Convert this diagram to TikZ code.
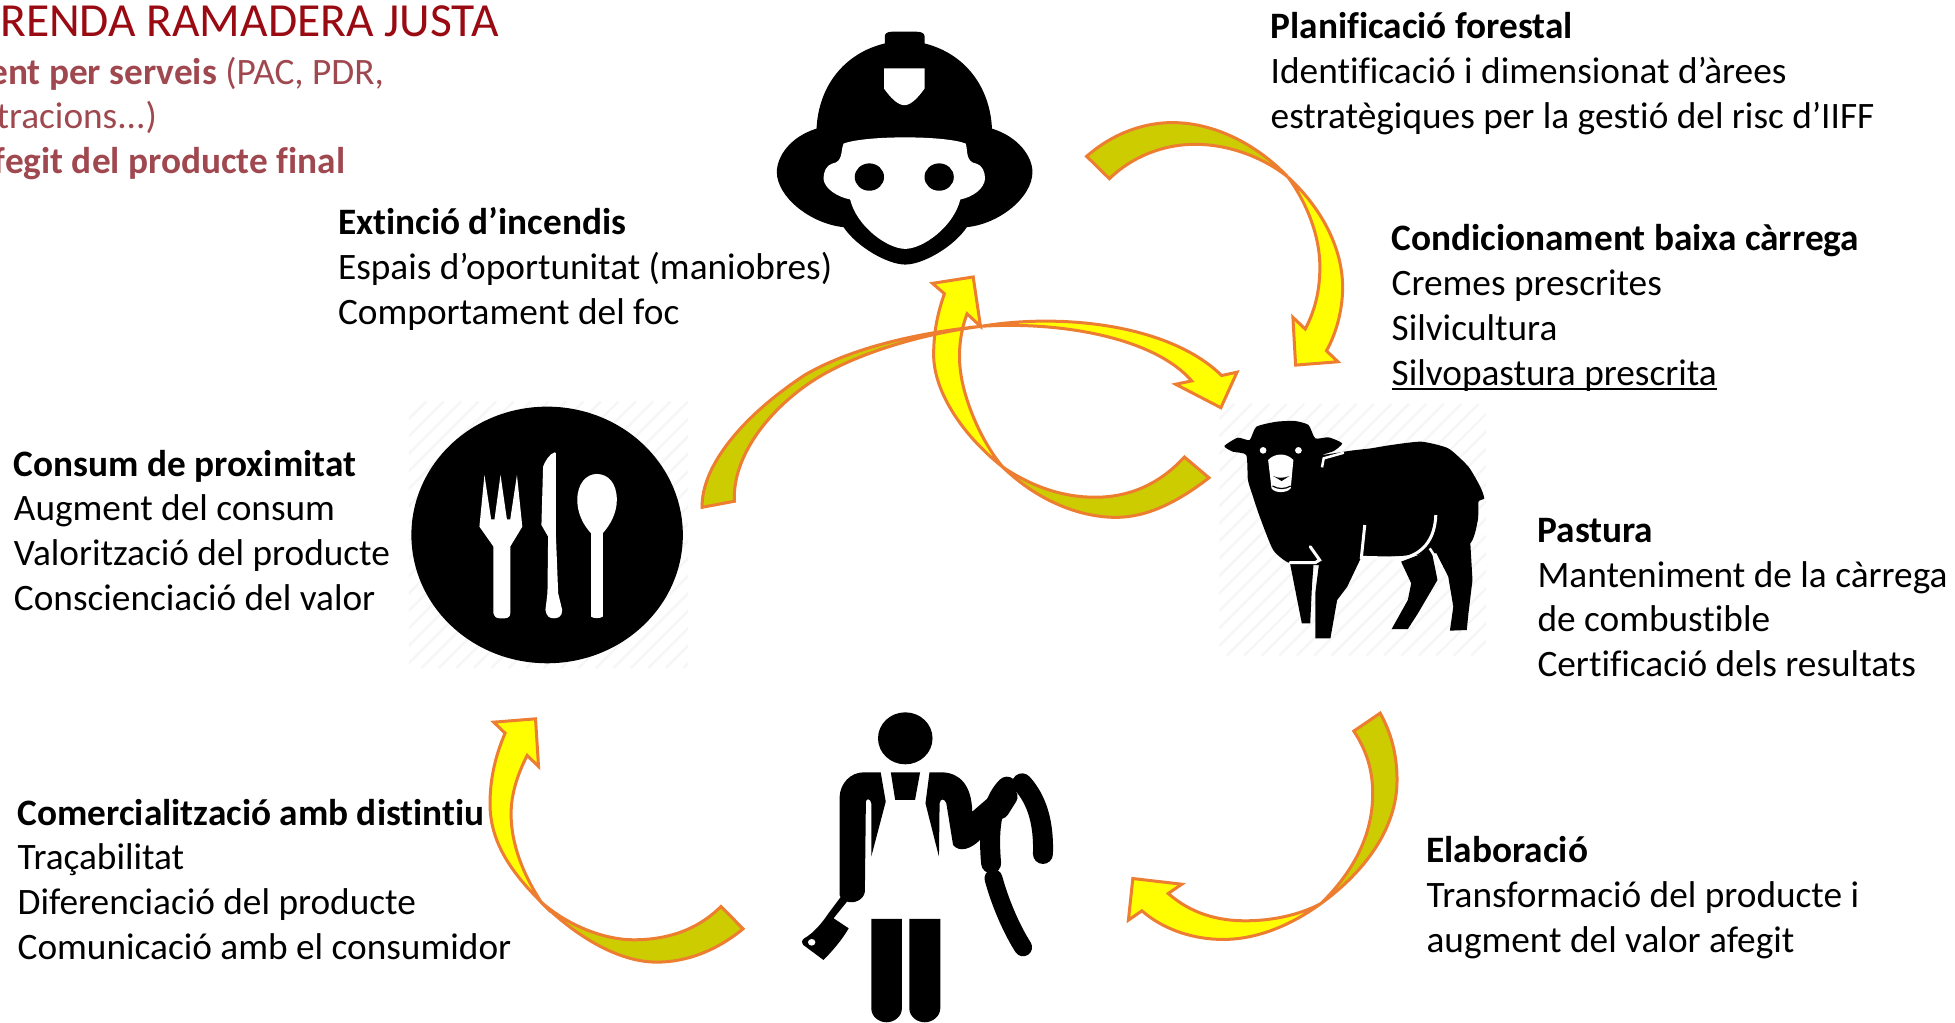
\documentclass[tikz,border=0pt]{standalone}
\usepackage{fontspec}
\setmainfont[RawFeature={-liga;-clig;-dlig}]{Carlito}
\definecolor{arrowline}{HTML}{ED7D31}
\definecolor{arrowyellow}{HTML}{FFFF00}
\definecolor{arrowdark}{HTML}{CCCC00}
\definecolor{titlered}{HTML}{990A12}
\definecolor{subred}{HTML}{A0484F}
\definecolor{faint}{HTML}{F6F6F6}
\newcommand{\thickul}[1]{\setbox0\hbox{#1}\rlap{\vrule depth 5.2pt height -3.2pt width \wd0}\box0}
\tikzset{
  body/.style={font={\fontsize{37.3}{44.9}\selectfont},anchor=base west,inner sep=0pt,align=left,text=black},
  head/.style={font={\fontsize{37.3}{44.9}\selectfont},anchor=base east,inner sep=0pt,text=subred},
  front/.style={fill=arrowyellow,draw=arrowline,line width=3pt,line join=miter},
  back/.style={fill=arrowdark,draw=arrowline,line width=3pt,line join=miter},
  fireA/.style={shift={(598.5,0)},xscale=.3092,yscale=.268},
  fireB/.style={shift={(600.8,0)},xscale=.3092,yscale=.268},
  middleZ/.style={shift={(544,206.6)},xscale=.308,yscale=.269},
  lowR/.style={shift={(882,562)},xscale=.271,yscale=.267},
  lowL/.style={shift={(368.3,562)},xscale=.2685,yscale=.2674},
  sheepZ/.style={shift={(961.75,304.9)},xscale=.27,yscale=.2674},
  plateZ/.style={shift={(320,320.9)},xscale=.2688,yscale=.2674},
  butcherZ/.style={shift={(624,561.6)},xscale=.27,yscale=.2674},
}
\begin{document}
\begin{tikzpicture}[x=1.2468pt,y=-1.2464pt]
\useasboundingbox (0,0) rectangle (1568,820);

% faint image backgrounds
\begin{scope}
\clip (978,324) rectangle (1192,526);
\foreach \i in {760,774,...,1192} \draw[faint,line width=2.5pt] (\i,526) -- ++(202,-202);
\end{scope}
\begin{scope}
\clip (328,322) rectangle (552,536);
\foreach \i in {100,114,...,552} \draw[faint,line width=2.5pt] (\i,536) -- ++(214,-214);
\end{scope}

% firefighter
\begin{scope}[fireB]
\fill[black] (352,130) -- (352,108) .. controls (352,100) and (360,95) .. (370,95) -- (435,95)
  .. controls (447,95) and (455,100) .. (455,108) -- (455,130)
  .. controls (560,160) and (625,260) .. (630,385)
  .. controls (700,410) and (735,470) .. (735,515)
  .. controls (735,590) and (650,670) .. (565,680)
  .. controls (530,740) and (450,792) .. (405,792)
  .. controls (360,792) and (280,740) .. (245,680)
  .. controls (160,670) and (72,590) .. (72,515)
  .. controls (72,470) and (105,410) .. (175,385)
  .. controls (180,260) and (245,160) .. (352,130) -- cycle;
\fill[white] (245,430) .. controls (300,405) and (510,405) .. (562,430)
  .. controls (568,450) and (560,485) .. (590,490)
  .. controls (605,495) and (612,515) .. (612,535)
  .. controls (610,565) and (580,590) .. (548,597)
  .. controls (530,680) and (450,745) .. (405,745)
  .. controls (360,745) and (280,680) .. (262,597)
  .. controls (230,590) and (195,565) .. (193,535)
  .. controls (193,515) and (200,495) .. (215,490)
  .. controls (245,485) and (237,450) .. (245,430) -- cycle;
\fill[black] (312,530) ellipse [x radius=38,y radius=41];
\fill[black] (493,530) ellipse [x radius=38,y radius=41];
\fill[white] (350,205) -- (455,205) -- (455,265) .. controls (440,290) and (420,315) .. (403,315)
  .. controls (385,315) and (365,290) .. (350,265) -- cycle;
\end{scope}

% sheep
\begin{scope}[sheepZ]
\fill[black] plot[smooth cycle,tension=.35] coordinates {(75,198) (115,173) (150,180) (170,140) (230,125) (285,123) (325,135) (345,175) (385,172) (425,190) (400,213) (365,225) (450,212) (510,205) (570,195) (660,185) (740,205) (800,260) (835,320) (847,355) (830,365) (828,420) (805,490) (700,520) (490,535) (360,555) (270,550) (220,510) (180,410) (160,350) (145,300) (140,225) (100,215)};
\fill[black] (700,510) -- (805,480) -- (812,600) -- (800,700) -- (795,750) -- (745,752) -- (755,680) -- (740,590) -- cycle;
\fill[black] (600,545) -- (690,510) -- (708,600) -- (650,700) -- (620,747) -- (572,747) -- (620,660) -- (630,610) -- cycle;
\fill[black] (490,500) -- (480,535) -- (440,620) -- (410,660) -- (390,775) -- (345,775) -- (345,640) -- (360,520) -- cycle;
\fill[black] (270,550) -- (340,550) -- (335,620) -- (330,730) -- (305,730) -- cycle;
\draw[white,line width=3pt,line cap=round] (270,548) -- (345,548) -- (358,540) -- (330,500);
\draw[white,line width=3pt] (492,435) -- (482,532) -- (600,535) .. controls (640,530) and (700,500) .. (703,405);
\draw[white,line width=2.5pt] (685,505) -- (720,560);
\draw[white,line width=2.5pt] (365,262) -- (370,235) -- (430,218);
\fill[white] (205,240) .. controls (225,218) and (260,218) .. (280,240) -- (272,325) .. controls (260,340) and (225,340) .. (215,325) -- cycle;
\fill[black] (220,288) .. controls (235,295) and (250,295) .. (268,288) -- (245,303) -- cycle;
\draw[black,line width=1.2pt] (218,318) .. controls (235,328) and (255,328) .. (272,318);
\fill[white] (190,211) ellipse [x radius=10,y radius=10];
\fill[white] (295,211) ellipse [x radius=10,y radius=10];
\end{scope}

% plate
\begin{scope}[plateZ]
\fill[black] (442,405) ellipse [x radius=405,y radius=385];
\fill[white] (255,225) -- (240,380) -- (282,440) -- (282,640) .. controls (285,650) and (290,655) .. (300,655) -- (315,655) .. controls (325,655) and (332,650) .. (332,640) -- (332,440) -- (368,380) -- (352,225) -- (332,358) -- (322,358) -- (303,225) -- (285,358) -- (275,358) -- cycle;
\fill[white] (465,157) .. controls (450,160) and (435,185) .. (430,200) -- (425,375) -- (445,410) -- (443,580) -- (437,630) .. controls (440,650) and (450,655) .. (462,655) .. controls (475,655) and (487,650) .. (487,630) -- (475,580) -- (468,400) -- (468,160) -- cycle;
\fill[white] (573,650) -- (573,400) .. controls (550,375) and (532,340) .. (532,300) .. controls (532,250) and (560,222) .. (590,222) .. controls (625,222) and (650,250) .. (650,300) .. controls (650,340) and (630,375) .. (608,400) -- (608,650) .. controls (600,656) and (580,656) .. (573,650) -- cycle;
\end{scope}

% butcher
\begin{scope}[butcherZ]
\fill[black] (378,115) ellipse [x radius=81,y radius=78];
\fill[black] (305,217) -- (320,305) -- (277,470) -- (277,310) .. controls (275,295) and (262,295) .. (261,305) -- (258,575) .. controls (255,600) and (225,612) .. (205,605) .. controls (195,603) and (185,595) .. (183,585) -- (183,290) .. controls (185,250) and (215,217) .. (255,217) -- cycle;
\fill[black] (187,590) -- (205,605) -- (165,655) -- (210,685) .. controls (190,720) and (160,755) .. (135,780) -- (75,735) .. controls (68,730) and (70,722) .. (78,715) .. controls (105,700) and (130,670) .. (150,640) -- cycle;
\fill[white] (100,727) ellipse [x radius=11,y radius=10];
\fill[black] (335,217) -- (422,217) -- (407,300) -- (348,300) -- cycle;
\fill[black] (450,217) -- (490,217) .. controls (540,220) and (575,255) .. (577,335) -- (640,280) -- (650,400) -- (600,420) .. controls (575,445) and (540,460) .. (520,435) -- (500,310) .. controls (495,295) and (482,295) .. (480,310) -- (478,470) -- (438,310) -- cycle;
\draw[black,line width=20pt,line cap=round,line join=round] (633,490) .. controls (625,400) and (630,310) .. (680,260);
\draw[black,line width=18pt,line cap=round] (660,330) -- (685,290);
\draw[black,line width=20pt,line cap=round] (725,250) .. controls (770,300) and (790,370) .. (787,462);
\draw[black,line width=18pt,line cap=round] (640,535) .. controls (660,610) and (695,690) .. (728,742);
\fill[black] (277,657) -- (368,657) -- (368,925) .. controls (368,950) and (345,967) .. (322,967) .. controls (300,967) and (277,950) .. (277,925) -- cycle;
\fill[black] (390,657) -- (482,657) -- (482,925) .. controls (482,950) and (458,967) .. (436,967) .. controls (413,967) and (390,950) .. (390,925) -- cycle;
\end{scope}

% curved arrows
\begin{scope}[fireA]
\draw[back] (883,468) .. controls (950,400) and (1030,367) .. (1105,367)
  .. controls (1230,367) and (1340,450) .. (1405,530)
  .. controls (1340,470) and (1250,432) .. (1165,432)
  .. controls (1080,432) and (1000,470) .. (942,535) -- cycle;
\draw[front] (1405,530) .. controls (1490,620) and (1547,740) .. (1547,860)
  .. controls (1547,940) and (1525,1010) .. (1505,1050)
  -- (1535,1083) -- (1425,1093) -- (1418,950) -- (1450,985)
  .. controls (1475,930) and (1488,870) .. (1488,800)
  .. controls (1488,700) and (1450,600) .. (1405,530) -- cycle;
\end{scope}
\begin{scope}[middleZ]
\draw[front] (845,625) .. controls (740,530) and (665,400) .. (665,290)
  .. controls (665,210) and (680,150) .. (693,108)
  -- (662,77) -- (768,58) -- (787,205) -- (752,168)
  .. controls (735,220) and (728,280) .. (735,340)
  .. controls (745,430) and (790,550) .. (845,625) -- cycle;
\draw[back] (1382,657) .. controls (1300,730) and (1220,775) .. (1140,775)
  .. controls (1040,775) and (930,720) .. (845,625)
  .. controls (930,690) and (1010,715) .. (1085,715)
  .. controls (1170,715) and (1250,680) .. (1318,595) -- cycle;
\draw[back] (62,745) .. controls (60,620) and (170,470) .. (330,350)
  .. controls (450,270) and (620,225) .. (790,205)
  .. controls (650,225) and (500,275) .. (400,335)
  .. controls (270,410) and (140,570) .. (146,727) -- cycle;
\draw[front] (790,205) .. controls (1000,165) and (1280,200) .. (1415,352)
  -- (1455,342) -- (1413,448) -- (1295,378) -- (1337,368)
  .. controls (1240,240) and (1000,190) .. (790,205) -- cycle;
\end{scope}
\begin{scope}[lowR]
\draw[back] (830,38) .. controls (870,110) and (880,180) .. (880,240)
  .. controls (880,380) and (790,510) .. (655,610)
  .. controls (755,510) and (808,400) .. (808,280)
  .. controls (808,210) and (790,150) .. (752,92) -- cycle;
\draw[front] (655,610) .. controls (560,680) and (460,718) .. (365,718)
  .. controls (280,718) and (190,690) .. (125,632)
  -- (85,660) -- (98,535) -- (243,552) -- (203,580)
  .. controls (270,640) and (350,662) .. (430,662)
  .. controls (510,662) and (590,645) .. (655,610) -- cycle;
\end{scope}
\begin{scope}[lowL]
\draw[back] (848,685) .. controls (770,750) and (680,785) .. (590,785)
  .. controls (470,785) and (340,700) .. (245,605)
  .. controls (330,680) and (440,718) .. (520,718)
  .. controls (620,718) and (710,690) .. (782,618) -- cycle;
\draw[front] (245,605) .. controls (150,510) and (92,420) .. (92,310)
  .. controls (92,220) and (115,150) .. (137,98)
  -- (103,65) -- (228,55) -- (237,198) -- (203,165)
  .. controls (175,220) and (155,280) .. (155,340)
  .. controls (155,430) and (190,520) .. (245,605) -- cycle;
\end{scope}

% texts
\node[anchor=base east,inner sep=0pt,text=titlered,font={\fontsize{47.5}{50}\selectfont}] (title) at (400,29) {RENDA RAMADERA JUSTA};
\node[head] (h1) at (308,68) {\textbf{ent per serveis} (PAC, PDR,};
\node[head] (h2) at (126,103) {tracions...)};
\node[head] (h3) at (277,139) {\textbf{fegit del producte final}};
\node[body] (extincio) at (271,260.5) {\textbf{Extinció d’incendis}\\Espais d’oportunitat (maniobres)\\Comportament del foc};
\node[body] (planif) at (1019,103) {\textbf{Planificació forestal}\\Identificació i dimensionat d’àrees\\estratègiques per la gestió del risc d’IIFF};
\node[body] (condic) at (1116,309) {\textbf{Condicionament baixa càrrega}\\Cremes prescrites\\Silvicultura\\\thickul{Silvopastura prescrita}};
\node[body] (pastura) at (1233,543) {\textbf{Pastura}\\Manteniment de la càrrega\\de combustible\\Certificació dels resultats};
\node[body] (elab) at (1144,764) {\textbf{Elaboració}\\Transformació del producte i\\augment del valor afegit};
\node[body] (consum) at (11,490) {\textbf{Consum de proximitat}\\Augment del consum\\Valorització del producte\\Conscienciació del valor};
\node[body] (comerc) at (14,770) {\textbf{Comercialització amb distintiu}\\Traçabilitat\\Diferenciació del producte\\Comunicació amb el consumidor};
\end{tikzpicture}
\end{document}
